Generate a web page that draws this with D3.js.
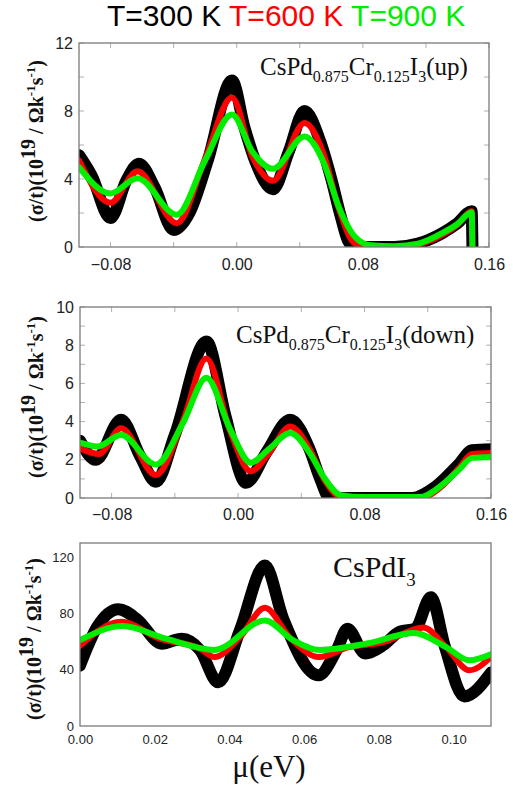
<!DOCTYPE html>
<html><head><meta charset="utf-8">
<script src="https://cdn.jsdelivr.net/npm/d3@7"></script>
<style>body{margin:0;background:#fff}svg{display:block}</style>
</head><body>
<svg id="c" width="513" height="790"></svg>
<script>
// ---------- DATA ----------
const titleParts = ["T=300 K", "T=600 K", "T=900 K"];
const seriesColors = ["#000000", "#ff0000", "#00ee00"];

// Panel 1: CsPd0.875Cr0.125I3 (up)
const p1_x300 = [-0.100,-0.092,-0.080,-0.070,-0.062,-0.052,-0.040,-0.030,-0.018,-0.003,0.005,0.012,0.023,0.033,0.043,0.053,0.060,0.066,0.071,0.076,0.100,0.115,0.130,0.140,0.149,0.1495];
const p1_y300 = [5.4,4.2,1.7,3.9,4.9,3.5,1.0,2.0,5.2,9.8,7.0,5.0,3.4,5.6,8.0,6.2,4.0,1.8,0.3,0.0,0.0,0.2,0.8,1.4,2.1,0];
const p1_x600 = [-0.100,-0.080,-0.063,-0.038,-0.020,-0.003,0.010,0.023,0.043,0.055,0.065,0.075,0.085,0.100,0.115,0.130,0.140,0.149,0.1495];
const p1_y600 = [5.1,2.6,4.45,1.4,5.2,8.8,5.3,3.9,7.3,5.5,2.2,0.2,0.0,0.0,0.15,0.7,1.3,2.1,0];
const p1_x900 = [-0.100,-0.080,-0.063,-0.038,-0.020,-0.003,0.010,0.023,0.043,0.055,0.065,0.075,0.085,0.100,0.115,0.130,0.140,0.149,0.1495];
const p1_y900 = [4.7,3.15,4.05,1.9,5.1,7.8,5.6,4.6,6.5,5.0,2.3,0.6,0.1,0.05,0.2,0.8,1.35,2.05,0];

// Panel 2: CsPd0.875Cr0.125I3 (down)
const p2_x300 = [-0.100,-0.090,-0.074,-0.062,-0.052,-0.040,-0.020,-0.008,0.005,0.018,0.033,0.045,0.052,0.058,0.080,0.110,0.125,0.140,0.148,0.160];
const p2_y300 = [3.0,2.0,4.1,2.2,0.85,3.3,8.2,4.3,0.8,2.4,4.1,2.6,1.0,0.0,0.0,0.0,0.6,1.8,2.5,2.55];
const p2_x600 = [-0.100,-0.088,-0.074,-0.052,-0.035,-0.020,-0.005,0.008,0.020,0.033,0.045,0.055,0.065,0.080,0.115,0.130,0.140,0.148,0.160];
const p2_y600 = [2.6,2.3,3.65,1.2,4.0,7.3,3.5,1.4,2.4,3.75,2.6,0.9,0.05,0.0,0.0,0.7,1.6,2.3,2.35];
const p2_x900 = [-0.100,-0.089,-0.074,-0.052,-0.035,-0.020,-0.005,0.008,0.020,0.033,0.045,0.055,0.065,0.080,0.115,0.130,0.140,0.148,0.160];
const p2_y900 = [2.9,2.7,3.3,1.75,3.9,6.3,3.6,1.85,2.6,3.4,2.4,1.0,0.15,0.05,0.05,0.75,1.5,2.1,2.15];

// Panel 3: CsPdI3
const p3_x300 = [0.000,0.0045,0.0103,0.0152,0.0219,0.0272,0.0321,0.037,0.0428,0.0495,0.0544,0.0638,0.0687,0.0716,0.0763,0.0812,0.0856,0.0897,0.0939,0.0977,0.1028,0.110];
const p3_y300 = [43,70,83,76,58.5,62,54,31,68,114,76,36,54,69,51.5,57.5,67,69,91.5,56,21,38];
const p3_x600 = [0.000,0.011,0.0214,0.0321,0.036,0.0428,0.0495,0.0561,0.064,0.072,0.0812,0.0919,0.098,0.1042,0.110];
const p3_y600 = [57,74,62,55,49,63,84,63,49,56,59.6,70,56,39.6,49];
const p3_x900 = [0.000,0.0114,0.023,0.036,0.0495,0.057,0.064,0.0768,0.0893,0.098,0.1042,0.110];
const p3_y900 = [61,71,62,54,75,61,54,58.6,66,56,46.7,51];

const p1_xticks = [-0.08,0.00,0.08,0.16], p1_xminor=[-0.04,0.04,0.12];
const p1_yticks = [0,4,8,12], p1_yminor=[2,6,10];
const p2_xticks = [-0.08,0.00,0.08,0.16], p2_xminor=[-0.04,0.04,0.12];
const p2_yticks = [0,2,4,6,8,10], p2_yminor=[1,3,5,7,9];
const p3_xticks = [0.00,0.02,0.04,0.06,0.08,0.10];
const p3_yticks = [0,40,80,120];

// ---------- DRAW ----------
const svg = d3.select("#c");
const SANS = "'Liberation Sans', Arial, sans-serif";
const SERIF = "'Liberation Serif', 'Times New Roman', serif";

// Title
const title = svg.append("text").attr("x",107).attr("y",26)
  .attr("font-family",SANS).attr("font-size",30);
titleParts.forEach((t,i)=>{
  title.append("tspan").attr("fill",seriesColors[i]).text((i? " ":"")+t);
});

function panel(cfg){
  const x = d3.scaleLinear().domain(cfg.xd).range([cfg.l,cfg.r]);
  const y = d3.scaleLinear().domain(cfg.yd).range([cfg.b,cfg.t]);
  const g = svg.append("g");
  const id = "clip"+cfg.id;
  svg.append("clipPath").attr("id",id).append("rect")
    .attr("x",cfg.l).attr("y",cfg.t).attr("width",cfg.r-cfg.l).attr("height",cfg.b-cfg.t);

  // inner ticks
  if(cfg.inner){
    const tg = g.append("g").attr("stroke","#b0b0b0").attr("stroke-width",1);
    const xs = cfg.xt.concat(cfg.xm||[]), ys = cfg.yt.concat(cfg.ym||[]);
    xs.forEach(v=>{ const px=x(v);
      tg.append("line").attr("x1",px).attr("x2",px).attr("y1",cfg.t).attr("y2",cfg.t+5);
      tg.append("line").attr("x1",px).attr("x2",px).attr("y1",cfg.b).attr("y2",cfg.b-5);});
    ys.forEach(v=>{ const py=y(v);
      tg.append("line").attr("x1",cfg.l).attr("x2",cfg.l+5).attr("y1",py).attr("y2",py);
      tg.append("line").attr("x1",cfg.r).attr("x2",cfg.r-5).attr("y1",py).attr("y2",py);});
  }

  // curves
  const line = d3.line().x(d=>x(d[0])).y(d=>y(d[1])).curve(d3.curveMonotoneX);
  const lg = g.append("g").attr("clip-path",`url(#${id})`);
  cfg.series.forEach((s,i)=>{
    lg.append("path").datum(d3.zip(s[0],s[1])).attr("d",line)
      .attr("fill","none").attr("stroke",seriesColors[i])
      .attr("stroke-width",i===0?cfg.bw:6).attr("stroke-linejoin","round").attr("stroke-linecap","round");
  });

  // frame
  g.append("rect").attr("x",cfg.l).attr("y",cfg.t).attr("width",cfg.r-cfg.l).attr("height",cfg.b-cfg.t)
    .attr("fill","none").attr("stroke","#7a7a7a").attr("stroke-width",1.3);

  // axes labels via d3 axes
  const xa = d3.axisBottom(x).tickValues(cfg.xt).tickSize(0).tickPadding(0).tickFormat(d3.format(".2f"));
  const xg = g.append("g").attr("transform",`translate(0,${cfg.b})`).call(xa);
  xg.select(".domain").remove();
  xg.selectAll("text").attr("font-family",SANS).attr("font-size",cfg.fs).attr("fill","#222")
    .attr("dy",null).attr("y",cfg.xly);
  const ya = d3.axisLeft(y).tickValues(cfg.yt).tickSize(0).tickPadding(6).tickFormat(d3.format("d"));
  const yg = g.append("g").attr("transform",`translate(${cfg.l},0)`).call(ya);
  yg.select(".domain").remove();
  yg.selectAll("text").attr("font-family",SANS).attr("font-size",cfg.fs).attr("fill","#222");

  // y label
  const yl = svg.append("text").attr("transform",`translate(${cfg.ylx},${cfg.yly}) rotate(-90)`)
    .attr("text-anchor","middle").attr("font-family",SERIF).attr("font-weight","bold").attr("font-size",20).attr("fill","#111");
  yl.append("tspan").text("(σ/t)(10");
  yl.append("tspan").attr("font-size",20).attr("dy",-8).text("19");
  yl.append("tspan").attr("dy",8).text(" / Ωk");
  yl.append("tspan").attr("font-size",13).attr("dy",-8).text("-1");
  yl.append("tspan").attr("dy",8).text("s");
  yl.append("tspan").attr("font-size",13).attr("dy",-8).text("-1");
  yl.append("tspan").attr("dy",8).text(")");

  // panel label
  const pl = svg.append("text").attr("x",cfg.lx).attr("y",cfg.ly).attr("font-family",SERIF)
    .attr("font-size",cfg.lfs).attr("fill","#111");
  cfg.label.forEach(p=>{
    const ts = pl.append("tspan").text(p[0]);
    if(p[1]==="sub") ts.attr("font-size",cfg.lsfs).attr("dy",cfg.lsfs*0.45);
    else if(p[1]==="back") ts.attr("dy",-cfg.lsfs*0.45);
  });
}

panel({id:1,l:79,r:489,t:43,b:247,xd:[-0.1,0.16],yd:[0,12],xt:p1_xticks,xm:p1_xminor,yt:p1_yticks,ym:p1_yminor,
  inner:true,fs:16,xly:23,bw:12,ylx:43,yly:141,
  series:[[p1_x300,p1_y300],[p1_x600,p1_y600],[p1_x900,p1_y900]],
  lx:260,ly:75,lfs:25,lsfs:16,
  label:[["CsPd"],["0.875","sub"],["Cr","back"],["0.125","sub"],["I","back"],["3","sub"],["(up)","back"]]});

panel({id:2,l:80,r:491,t:307,b:498,xd:[-0.1,0.16],yd:[0,10],xt:p2_xticks,xm:p2_xminor,yt:p2_yticks,ym:p2_yminor,
  inner:true,fs:16,xly:22,bw:12,ylx:43,yly:397,
  series:[[p2_x300,p2_y300],[p2_x600,p2_y600],[p2_x900,p2_y900]],
  lx:236,ly:343,lfs:25,lsfs:16,
  label:[["CsPd"],["0.875","sub"],["Cr","back"],["0.125","sub"],["I","back"],["3","sub"],["(down)","back"]]});

panel({id:3,l:80,r:491,t:543,b:726,xd:[0,0.11],yd:[0,130],xt:p3_xticks,xm:[],yt:p3_yticks,ym:[],
  inner:false,fs:13,xly:18,bw:12,ylx:41,yly:639,
  series:[[p3_x300,p3_y300],[p3_x600,p3_y600],[p3_x900,p3_y900]],
  lx:333,ly:577,lfs:30,lsfs:19,
  label:[["CsPdI"],["3","sub"]]});

// x axis label
svg.append("text").attr("x",269).attr("y",777).attr("text-anchor","middle")
  .attr("font-family",SERIF).attr("font-size",31).attr("fill","#111").text("μ(eV)");
</script>
</body></html>
